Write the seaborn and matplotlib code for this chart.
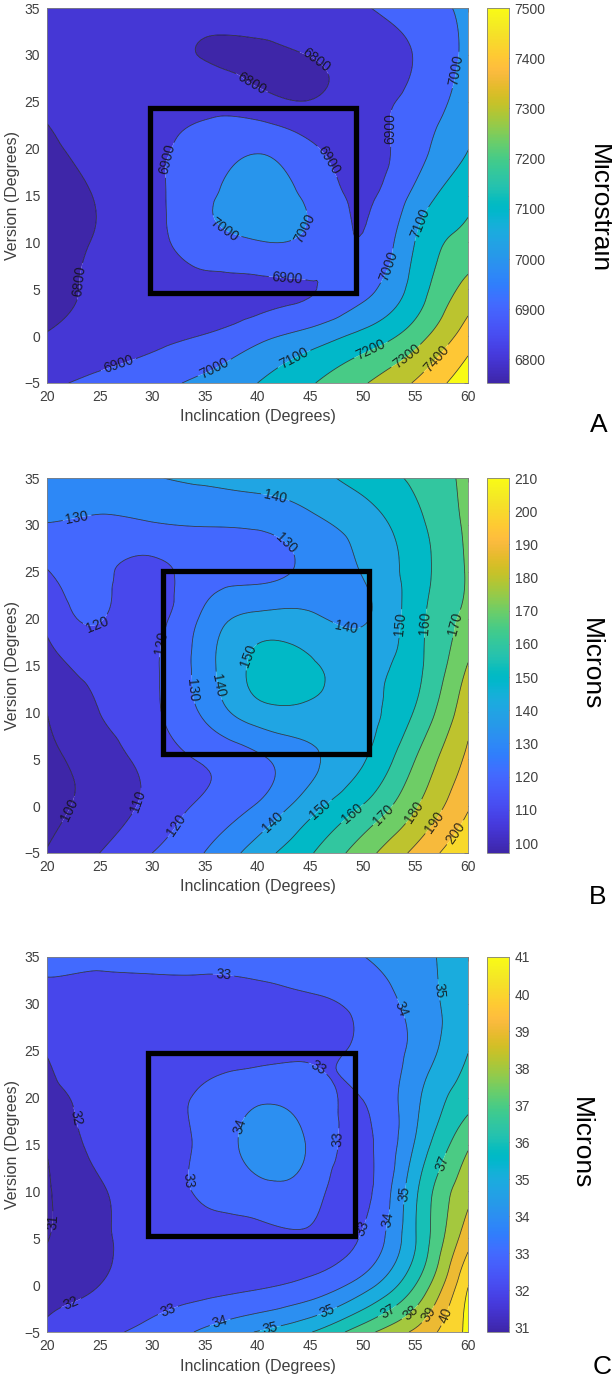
import numpy as np
import matplotlib
matplotlib.use("Agg")
import matplotlib.pyplot as plt
import matplotlib.tri as mtri
from matplotlib.colors import Normalize
from matplotlib.cm import ScalarMappable
from matplotlib.patches import Rectangle
import seaborn as sns

# ---------------- data ----------------
inclination = [20, 25, 30, 35, 40, 45, 50, 55, 60]
version = [-5, 0, 5, 10, 15, 20, 25, 30, 35]

# rows follow `version`, columns follow `inclination`
microstrain = [
    [6883, 6925, 6968, 7025, 7100, 7190, 7290, 7410, 7560],
    [6805, 6840, 6870, 6905, 6970, 7040, 7130, 7255, 7450],
    [6775, 6812, 6845, 6865, 6875, 6895, 6965, 7143, 7338],
    [6765, 6805, 6862, 6960, 6995, 6970, 6905, 7103, 7230],
    [6755, 6805, 6870, 6982, 7030, 6978, 6885, 7028, 7175],
    [6785, 6827, 6880, 6940, 6990, 6918, 6870, 6960, 7098],
    [6808, 6815, 6840, 6865, 6835, 6803, 6860, 6930, 7050],
    [6825, 6820, 6815, 6797, 6788, 6802, 6840, 6905, 7025],
    [6840, 6840, 6840, 6835, 6835, 6845, 6890, 6955, 7020],
]
microns_b = [
    [100.5, 110, 120, 130.2, 145, 159, 175.5, 192.5, 208],
    [97, 104, 113, 122, 131, 146, 160.5, 179, 199],
    [97.5, 105, 114, 121, 128, 138, 149, 170, 192],
    [100, 110, 118, 132, 146, 147.5, 147.5, 161, 187],
    [105.5, 113.5, 118.5, 135.5, 152, 151, 147, 157, 180.5],
    [112.5, 120.5, 117, 132.5, 143, 142, 139, 156, 173],
    [119.5, 122, 117.5, 125, 127, 133, 140.5, 155, 171],
    [129.5, 127.5, 129, 130.5, 131.5, 137, 144.5, 157, 172],
    [137, 138.5, 139.6, 141.5, 143.5, 146.5, 154, 162, 172.5],
]
microns_c = [
    [32.15, 32.75, 33.3, 34.2, 35.05, 35.95, 37.6, 39.2, 41.2],
    [31.6, 32.0, 32.45, 32.65, 32.85, 33.3, 34.5, 37.0, 40.95],
    [30.95, 31.85, 32.3, 32.55, 32.65, 32.8, 33.1, 35.95, 39.6],
    [30.9, 31.9, 32.5, 33.15, 33.65, 33.45, 32.7, 35.8, 38.7],
    [31.1, 32.25, 32.6, 33.25, 34.35, 33.85, 32.8, 35.1, 37.85],
    [31.75, 32.3, 32.7, 33.15, 33.8, 33.45, 33.02, 34.75, 36.6],
    [32.05, 32.5, 32.6, 32.65, 32.7, 32.85, 33.15, 34.3, 35.97],
    [32.75, 32.7, 32.7, 32.7, 32.75, 32.88, 33.25, 34.4, 35.55],
    [33.1, 33.15, 33.2, 33.2, 33.2, 33.4, 33.97, 34.7, 35.4],
]

levels_a = [6800, 6900, 7000, 7100, 7200, 7300, 7400, 7500]
levels_b = [100, 110, 120, 130, 140, 150, 160, 170, 180, 190, 200, 210]
levels_c = [31, 32, 33, 34, 35, 36, 37, 38, 39, 40, 41]

clim_a = (6753, 7500)
clim_b = (97, 210)
clim_c = (30.87, 41)

cticks_a = [6800, 6900, 7000, 7100, 7200, 7300, 7400, 7500]
cticks_b = [100, 110, 120, 130, 140, 150, 160, 170, 180, 190, 200, 210]
cticks_c = [31, 32, 33, 34, 35, 36, 37, 38, 39, 40, 41]

# label anchor spots (layout)
labels_a = [(45.4, 29.1), (39.3, 26.7), (23.9, 5.8), (26.9, -3.4), (31.5, 18.8),
            (46.9, 18.8), (42.8, 6.0), (53.2, 22.2), (36.8, 11.3), (44.1, 11.7),
            (35.9, -3.4), (52.6, 7.4), (58.8, 28.4), (43.7, -2.9), (56.2, 11.7),
            (51.0, -2.0), (54.3, -2.4), (57.1, -2.5)]
labels_b = [(22.8, 31.1), (41.6, 32.5), (41.8, 27.0), (24.7, 19.5), (31.0, 17.4),
            (48.4, 18.8), (40.1, 15.6), (33.5, 12.4), (36.2, 12.8), (53.3, 19.5),
            (56.1, 19.5), (58.8, 19.5), (21.5, 0.0), (28.0, 0.8), (32.5, -2.2),
            (41.3, -1.5), (45.9, -0.2), (49.1, -0.9), (52.1, -1.1), (54.9, -0.6),
            (56.8, -1.7), (58.4, -2.5)]
labels_c = [(36.8, 33.4), (53.2, 29.3), (57.3, 31.5), (45.3, 22.4), (23.0, 17.9),
            (38.1, 17.0), (47.5, 15.6), (56.9, 13.3), (33.3, 11.2), (53.6, 9.8),
            (21.0, 6.7), (52.6, 6.9), (50.0, 6.0), (22.4, -2.2), (31.7, -3.3),
            (36.4, -3.8), (41.1, -4.0), (46.8, -3.3), (52.2, -2.5), (54.5, -2.9),
            (56.5, -3.3), (58.4, -3.5)]

boxes = {"A": (29.8, 4.6, 49.4, 24.3), "B": (31.05, 5.56, 50.6, 25.1), "C": (29.6, 5.2, 49.3, 24.8)}

# MATLAB parula (64 entries)
parula_rgb = [
    (0.2422, 0.1504, 0.6603), (0.2504, 0.1650, 0.7076), (0.2578, 0.1818, 0.7511), (0.2647, 0.1978, 0.7952),
    (0.2706, 0.2147, 0.8364), (0.2751, 0.2342, 0.8710), (0.2783, 0.2559, 0.8991), (0.2803, 0.2782, 0.9221),
    (0.2813, 0.3006, 0.9414), (0.2810, 0.3228, 0.9579), (0.2795, 0.3447, 0.9717), (0.2760, 0.3667, 0.9829),
    (0.2699, 0.3892, 0.9906), (0.2602, 0.4123, 0.9952), (0.2440, 0.4358, 0.9988), (0.2206, 0.4603, 0.9973),
    (0.1963, 0.4847, 0.9892), (0.1834, 0.5074, 0.9798), (0.1786, 0.5289, 0.9682), (0.1764, 0.5499, 0.9520),
    (0.1687, 0.5703, 0.9359), (0.1540, 0.5902, 0.9218), (0.1460, 0.6091, 0.9079), (0.1380, 0.6276, 0.8973),
    (0.1248, 0.6459, 0.8883), (0.1113, 0.6635, 0.8763), (0.0952, 0.6798, 0.8598), (0.0689, 0.6948, 0.8394),
    (0.0297, 0.7082, 0.8163), (0.0036, 0.7203, 0.7917), (0.0067, 0.7312, 0.7660), (0.0433, 0.7411, 0.7394),
    (0.0964, 0.7500, 0.7120), (0.1408, 0.7584, 0.6842), (0.1717, 0.7670, 0.6554), (0.1938, 0.7758, 0.6251),
    (0.2161, 0.7843, 0.5923), (0.2470, 0.7918, 0.5567), (0.2906, 0.7973, 0.5188), (0.3406, 0.8008, 0.4789),
    (0.3909, 0.8029, 0.4354), (0.4456, 0.8024, 0.3909), (0.5044, 0.7993, 0.3480), (0.5616, 0.7942, 0.3045),
    (0.6174, 0.7876, 0.2612), (0.6720, 0.7793, 0.2227), (0.7242, 0.7698, 0.1910), (0.7738, 0.7598, 0.1646),
    (0.8203, 0.7498, 0.1535), (0.8634, 0.7406, 0.1596), (0.9035, 0.7330, 0.1774), (0.9393, 0.7288, 0.2100),
    (0.9728, 0.7298, 0.2394), (0.9956, 0.7434, 0.2371), (0.9970, 0.7659, 0.2199), (0.9952, 0.7893, 0.2028),
    (0.9892, 0.8136, 0.1885), (0.9786, 0.8386, 0.1766), (0.9676, 0.8639, 0.1643), (0.9610, 0.8890, 0.1537),
    (0.9597, 0.9135, 0.1423), (0.9628, 0.9373, 0.1265), (0.9691, 0.9606, 0.1064), (0.9769, 0.9839, 0.0805),
]

# ---------------- style ----------------
sns.set_theme(style="white")
plt.rcParams["font.family"] = ["Liberation Sans", "DejaVu Sans"]
parula = sns.blend_palette(parula_rgb, n_colors=256, as_cmap=True)

TXT = "#262626"

fig = plt.figure(figsize=(6.12, 13.81), dpi=100)
fig.patch.set_facecolor("white")

ax_w = 421 / 612
ax_h = 375 / 1381
cb_x = 487 / 612
cb_w = 22 / 612
ax_x = 47 / 612
tops = [8, 478, 957]


def panel(top_px, data, levels, clim, cticks, lab_pos, box, cb_label, letter,
          cb_label_x, cb_label_y, letter_xy):
    y0 = (1381 - top_px - 375) / 1381
    ax = fig.add_axes([ax_x, y0, ax_w, ax_h])
    cax = fig.add_axes([cb_x, y0, cb_w, ax_h])

    X, Y = np.meshgrid(np.array(inclination, float), np.array(version, float))
    Z = np.array(data, float)
    tri = mtri.Triangulation(X.ravel(), Y.ravel())
    refiner = mtri.UniformTriRefiner(tri)
    tri_r, z_r = refiner.refine_field(Z.ravel(), subdiv=4)

    norm = Normalize(vmin=clim[0], vmax=clim[1])
    lo = min(z_r.min(), clim[0]) - 1.0
    hi = max(z_r.max(), levels[-1]) + 1.0
    fill_levels = sorted(set([lo] + list(levels) + [hi]))
    colors = [parula(norm(max(lv, clim[0]))) for lv in fill_levels[:-1]]
    ax.tricontourf(tri_r, z_r, levels=fill_levels, colors=colors, antialiased=True)
    cs = ax.tricontour(tri_r, z_r, levels=levels, colors="#1a1a1a", linewidths=0.55, alpha=0.85)
    ax.clabel(cs, manual=lab_pos, inline=True, fontsize=10, fmt="%d", inline_spacing=3,
              colors="#111111")

    x0b, y0b, x1b, y1b = box
    ax.add_patch(Rectangle((x0b, y0b), x1b - x0b, y1b - y0b, fill=False, ec="black",
                           lw=3.8, joinstyle="miter", zorder=6))

    ax.set_xlim(20, 60)
    ax.set_ylim(-5, 35)
    ax.set_xticks(inclination)
    ax.set_yticks(version)
    ax.tick_params(direction="in", top=True, right=True, length=3, width=0.5,
                   colors=TXT, labelsize=10, pad=5, labelcolor="#404040")
    for s in ax.spines.values():
        s.set_color("#7f7f7f")
        s.set_linewidth(0.6)
    ax.set_xlabel("Inclincation (Degrees)", fontsize=11.5, color="#404040", labelpad=4)
    ax.set_ylabel("Version (Degrees)", fontsize=11.5, color="#404040", labelpad=3)

    sm = ScalarMappable(norm=norm, cmap=parula)
    cb = fig.colorbar(sm, cax=cax)
    cb.set_ticks(cticks)
    cb.ax.tick_params(direction="in", length=3, width=0.5, colors=TXT, labelsize=10,
                      pad=4, labelcolor="#404040")
    cb.outline.set_edgecolor("#7f7f7f")
    cb.outline.set_linewidth(0.6)

    fig.text(cb_label_x / 612, (1381 - cb_label_y) / 1381, cb_label, rotation=-90,
             ha="center", va="center", fontsize=19, color="black")
    fig.text(letter_xy[0] / 612, (1381 - letter_xy[1]) / 1381, letter,
             ha="center", va="center", fontsize=19, color="black")


panel(tops[0], microstrain, levels_a, clim_a, cticks_a, labels_a, boxes["A"],
      "Microstrain", "A", 599, 209, (599, 425))
panel(tops[1], microns_b, levels_b, clim_b, cticks_b, labels_b, boxes["B"],
      "Microns", "B", 591, 664, (598, 897))
panel(tops[2], microns_c, levels_c, clim_c, cticks_c, labels_c, boxes["C"],
      "Microns", "C", 581, 1143, (602, 1367))

fig.savefig("out.png", dpi=100, facecolor="white")
